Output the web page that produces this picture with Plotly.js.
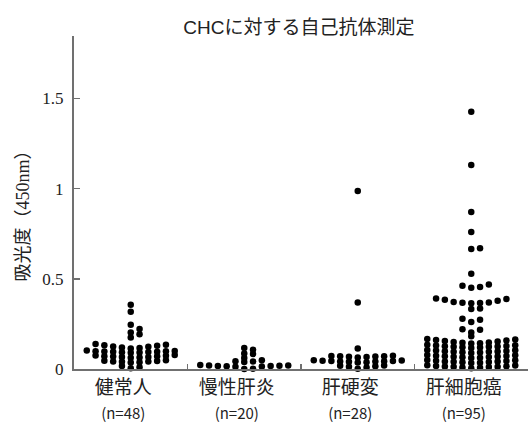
<!DOCTYPE html>
<html>
<head>
<meta charset="utf-8">
<script src="https://cdn.plot.ly/plotly-3.0.1.min.js"></script>
<style>html,body{margin:0;padding:0;background:#fff;}#chart{width:530px;height:426px;}</style>
</head>
<body>
<div id="chart"></div>
<script>
// ---- data ----
const categories = ['健常人', '慢性肝炎', '肝硬変', '肝細胞癌'];

const healthy = [
  0.004, 0.010, 0.016,
  0.036, 0.038, 0.040, 0.041, 0.042, 0.044, 0.046, 0.048,
  0.062, 0.064, 0.066, 0.067, 0.069, 0.070, 0.071, 0.073, 0.075, 0.077,
  0.090, 0.091, 0.093, 0.094, 0.095, 0.096, 0.097, 0.098, 0.099, 0.100, 0.102,
  0.114, 0.117, 0.119, 0.123, 0.125, 0.129, 0.131, 0.135, 0.138,
  0.175, 0.192, 0.203, 0.222, 0.245, 0.317, 0.356
];

const chronicHepatitis = [
  0.000, 0.002, 0.012, 0.014, 0.015, 0.016, 0.017, 0.018, 0.019, 0.020, 0.022,
  0.039, 0.042, 0.043, 0.048,
  0.061, 0.083,
  0.086, 0.107,
  0.116
];

const cirrhosis = [
  0.002, 0.008, 0.012, 0.015, 0.018, 0.020,
  0.036, 0.038, 0.040, 0.041, 0.042, 0.043, 0.044, 0.045, 0.046, 0.047, 0.048,
  0.064, 0.066, 0.068, 0.069, 0.070, 0.071, 0.072, 0.074,
  0.113, 0.369, 0.987
];

const hcc = [
  0.004, 0.007, 0.009, 0.011, 0.012, 0.013, 0.014, 0.015, 0.017, 0.019, 0.021,
  0.033, 0.035, 0.037, 0.039, 0.040, 0.041, 0.042, 0.044, 0.046, 0.048, 0.050,
  0.061, 0.063, 0.065, 0.067, 0.068, 0.069, 0.070, 0.072, 0.074, 0.076, 0.078,
  0.089, 0.091, 0.093, 0.095, 0.096, 0.097, 0.098, 0.100, 0.102, 0.104, 0.106,
  0.117, 0.119, 0.121, 0.123, 0.124, 0.125, 0.126, 0.128, 0.130, 0.132, 0.134,
  0.142, 0.143, 0.145, 0.147, 0.150, 0.153, 0.155, 0.158, 0.161, 0.164, 0.166,
  0.181, 0.203, 0.218, 0.221, 0.260, 0.273, 0.279, 0.333, 0.335,
  0.365, 0.366, 0.367, 0.369, 0.372, 0.378, 0.384, 0.388, 0.391,
  0.450, 0.454, 0.461, 0.468,
  0.528, 0.665, 0.670, 0.760, 0.871, 1.131, 1.426
];

const yTickVals = [0, 0.5, 1, 1.5];
const yTickText = ['0', '0.5', '1', '1.5'];

const titleText = 'CHCに対する自己抗体測定';
const yTitleText = '吸光度（450nm）';

// ---- dot-plot layout: values binned into rows, spread from the centre outwards ----
const BIN = 0.028;   // row height (value units)
const SLOT = 0.0775; // horizontal spacing between dots (category units)

function swarm(values, centre) {
  const bins = {};
  values.forEach(v => {
    const b = Math.floor(v / BIN + 1e-9);
    (bins[b] = bins[b] || []).push(v);
  });
  const xs = [], ys = [];
  Object.keys(bins).forEach(b => {
    const row = bins[b].slice().sort((a, c) => a - c);
    row.forEach((v, k) => {
      const s = k === 0 ? 0 : (k % 2 === 1 ? (k + 1) / 2 : -k / 2);
      xs.push(centre + s * SLOT);
      ys.push(v);
    });
  });
  return {xs, ys};
}

const groups = [healthy, chronicHepatitis, cirrhosis, hcc];
const traces = groups.map((vals, i) => {
  const s = swarm(vals, i);
  return {
    type: 'scatter', mode: 'markers',
    x: s.xs, y: s.ys,
    name: categories[i],
    marker: {color: '#000', size: 6.5},
    cliponaxis: false,
    hoverinfo: 'y'
  };
});

// invisible carrier trace so that the label axis (x2) is drawn
traces.push({
  type: 'scatter', mode: 'markers',
  x: categories.map((c, i) => i), y: categories.map(() => 0),
  xaxis: 'x2', yaxis: 'y',
  marker: {opacity: 0, size: 1},
  hoverinfo: 'skip', showlegend: false
});

const tickLabels = categories.map((c, i) =>
  c + '<br><span style="font-size:15px">(n=' + groups[i].length + ')</span>');

const axisColor = '#707070';

const layout = {
  width: 530, height: 426,
  margin: {l: 74, r: 2, t: 36, b: 57},
  paper_bgcolor: '#fff', plot_bgcolor: '#fff',
  showlegend: false,
  title: {
    text: titleText,
    font: {family: 'Liberation Sans, Noto Sans CJK JP, sans-serif', size: 19, color: '#222'},
    xref: 'container', yref: 'container',
    x: 0.564, xanchor: 'center', y: 0.936, yanchor: 'middle'
  },
  xaxis: {
    range: [-0.5, 3.5],
    showline: true, linecolor: axisColor, linewidth: 2,
    tickvals: [-0.5, 0.5, 1.5, 2.5, 3.5],
    ticks: 'inside', ticklen: 5, tickwidth: 1.5, tickcolor: axisColor,
    showticklabels: false, showgrid: false, zeroline: false, fixedrange: true
  },
  xaxis2: {
    overlaying: 'x', anchor: 'y', side: 'bottom',
    range: [-0.434, 3.566],
    tickvals: [0, 1, 2, 3], ticktext: tickLabels,
    ticks: '', showline: false, showgrid: false, zeroline: false,
    tickfont: {family: 'Noto Sans CJK JP, sans-serif', size: 19, color: '#222'},
    ticklabelstandoff: 5, fixedrange: true
  },
  yaxis: {
    range: [0, 1.846],
    showline: true, linecolor: axisColor, linewidth: 2,
    tickvals: yTickVals, ticktext: yTickText,
    ticks: 'inside', ticklen: 6, tickwidth: 1.5, tickcolor: axisColor,
    tickfont: {family: 'Liberation Serif, serif', size: 17, color: '#222'},
    ticklabelstandoff: 5,
    showgrid: false, zeroline: false, fixedrange: true
  },
  annotations: [{
    text: yTitleText, textangle: -90,
    xref: 'paper', yref: 'paper',
    x: -0.113, y: 0.472, xanchor: 'center', yanchor: 'middle',
    showarrow: false,
    font: {family: 'Liberation Serif, Noto Sans CJK JP, serif', size: 18, color: '#222'}
  }]
};

Plotly.newPlot('chart', traces, layout, {staticPlot: true, displayModeBar: false});
</script>
</body>
</html>
